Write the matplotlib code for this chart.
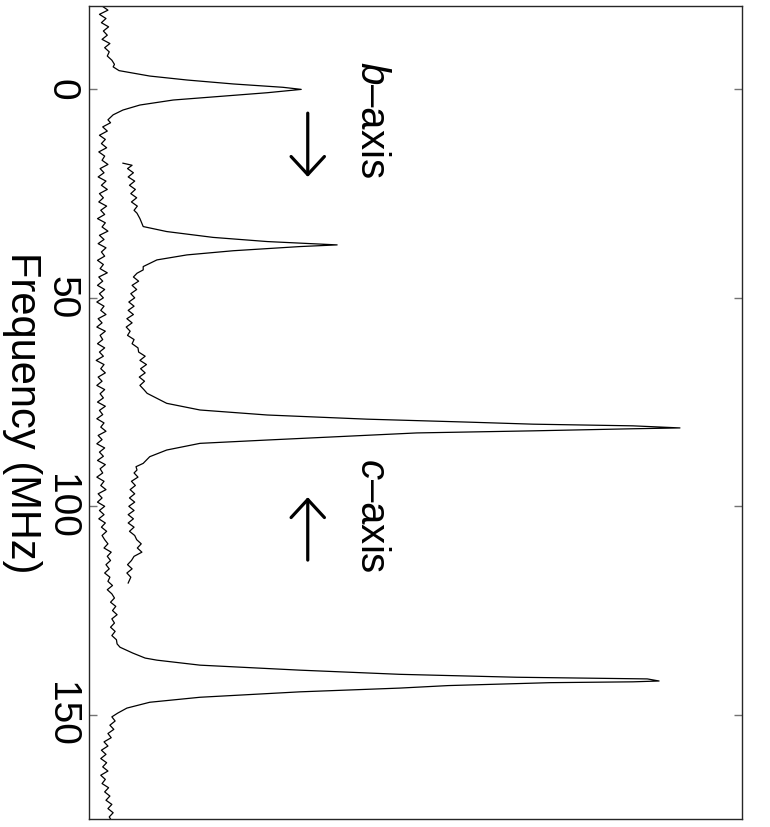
import matplotlib
matplotlib.use("Agg")
import matplotlib.pyplot as plt

plt.rcParams['font.family'] = ['Liberation Sans', 'DejaVu Sans']
plt.rcParams['mathtext.fontset'] = 'custom'
plt.rcParams['mathtext.rm'] = 'Liberation Sans'
plt.rcParams['mathtext.it'] = 'Liberation Sans:italic'

# spectrum spanning the full window (peaks near 0 and 142 MHz)
freq_full = [-20, -19, -18, -17, -16, -15, -14, -13, -12, -11, -10, -9, -8, -7, -6,
             -5.4, -4.5, -3.2, -2.25, -1.3, -0.5, 0, 0.8, 1.75, 2.55, 3.75, 4.95, 6.1, 7.3,
             8, 9, 10, 11, 12, 13, 14, 15, 16, 17, 18, 19, 20, 21, 22, 23, 24, 25, 26, 27,
             28, 29, 30, 31, 32, 33, 34, 35, 36, 37, 38, 39, 40, 41, 42, 43, 44, 45, 46, 47,
             48, 49, 50, 51, 52, 53, 54, 55, 56, 57, 58, 59, 60, 61, 62, 63, 64, 65, 66, 67,
             68, 69, 70, 71, 72, 73, 74, 75, 76, 77, 78, 79, 80, 81, 82, 83, 84, 85, 86, 87,
             88, 89, 90, 91, 92, 93, 94, 95, 96, 97, 98, 99, 100, 101, 102, 103, 104, 105,
             106, 107, 108, 109, 110, 111, 112, 113, 114, 115, 116, 117, 118, 119, 120, 121,
             122, 123, 124, 125, 126, 127, 128, 129, 130, 131, 132, 133, 133.8, 135.2, 136.4,
             136.9, 138.1, 139.3, 140.3, 141.0, 141.4, 141.9, 142.1, 142.3, 143.0, 143.6,
             144.5, 145.8, 147.0, 148.4, 149.6, 150.5, 151.5, 152.5, 153.5, 154.5, 155.5,
             156.5, 157.5, 158.5, 159.5, 160.5, 161.5, 162.5, 163.5, 164.5, 165.5, 166.5,
             167.5, 168.5, 169.5, 170.5, 171.5, 172.5, 173.5, 174.5, 175]
int_full = [2.0, 2.9, 1.6, 2.6, 1.9, 3.0, 2.2, 2.8, 2.0, 3.2, 2.4, 3.1, 2.8, 3.5, 3.9,
            3.7, 4.6, 9.3, 15.0, 22.1, 29.7, 32.5, 27.3, 19.6, 12.9, 7.8, 5.2, 3.7, 2.9,
            3.3, 2.1, 2.8, 1.6, 2.5, 1.9, 2.7, 1.5, 2.4, 2.0, 2.9, 1.7, 2.3, 1.4, 2.6, 1.9,
            2.8, 1.6, 2.2, 1.5, 2.7, 1.8, 2.4, 1.3, 2.5, 2.0, 2.9, 1.6, 2.3, 1.4, 2.6, 1.9,
            2.4, 1.3, 2.2, 1.7, 2.8, 1.5, 2.1, 1.3, 2.4, 1.6, 2.2, 1.2, 2.3, 1.8, 2.6, 1.4,
            2.0, 1.2, 2.5, 1.7, 2.1, 1.3, 2.4, 1.6, 2.2, 1.1, 2.3, 1.8, 2.5, 1.4, 2.0, 1.2,
            2.4, 1.7, 2.2, 1.3, 2.5, 1.6, 2.1, 1.2, 2.3, 1.8, 2.6, 1.4, 2.0, 1.2, 2.4, 1.6,
            2.2, 1.3, 2.5, 1.7, 2.1, 1.2, 2.3, 1.8, 2.6, 1.4, 2.0, 1.3, 2.4, 1.6, 2.3, 1.5,
            2.5, 1.9, 2.7, 2.0, 2.4, 2.9, 2.3, 3.4, 2.8, 3.3, 2.6, 3.1, 2.4, 3.2, 2.9, 3.6,
            2.8, 3.5, 3.9, 3.3, 4.1, 3.6, 4.3, 3.5, 3.9, 3.3, 4.0, 3.5, 4.2, 4.3, 4.75, 6.7,
            8.6, 10.4, 17.0, 32.3, 47.6, 65.5, 85.5, 87.3, 83.3, 70.6, 55.0, 47.6, 32.3,
            17.0, 9.3, 5.8, 4.4, 3.5, 4.0, 3.2, 3.8, 2.9, 3.4, 2.3, 2.9, 1.9, 2.6, 1.8, 2.7,
            2.1, 2.9, 1.8, 2.5, 2.0, 3.0, 2.4, 3.2, 2.6, 3.5, 2.9, 3.7, 3.1, 3.3]

# offset spectrum (peaks near 37 and 81 MHz)
freq_part = [17.7, 18.2, 19, 20, 21, 22, 23, 24, 25, 26, 27, 28, 29, 29.7, 31, 32.9,
             34.1, 35.5, 36.5, 37.3, 37.7, 38.7, 39.7, 40.9, 42.5, 43.3, 44.1, 45, 46, 47,
             48, 49, 50, 51, 52, 53, 54, 55, 56, 57, 58, 59, 60, 61, 62, 63, 64, 65, 66, 67,
             68, 69, 70, 71, 72, 72.9, 75.3, 76.9, 78.1, 79.1, 79.8, 80.3, 80.7, 81.2, 81.4,
             81.9, 82.4, 84.1, 84.9, 86.5, 88.1, 89.7, 90.5, 91.3, 92, 93, 94, 95, 96, 97,
             98, 99, 100, 101, 102, 103, 104, 105, 106, 107, 108, 109, 110, 111, 112, 113,
             114, 115, 116, 117, 118.4]
int_part = [5.2, 6.6, 5.9, 6.8, 6.0, 7.0, 6.2, 7.1, 6.4, 7.3, 6.5, 7.4, 6.9, 7.35, 7.8, 8.3,
            11.9, 19.0, 27.3, 38.0, 32.3, 22.1, 15.0, 10.4, 8.3, 8.3, 7.35, 6.8, 7.6, 6.6,
            7.3, 6.4, 7.0, 6.1, 6.9, 6.0, 6.8, 5.8, 6.6, 5.7, 6.3, 5.9, 6.9, 6.6, 7.5, 7.6,
            8.6, 7.8, 8.8, 7.9, 8.6, 7.7, 8.5, 7.8, 8.4, 8.9, 11.9, 17.0, 27.3, 42.6, 57.9,
            68.0, 83.3, 90.5, 83.3, 68.0, 50.2, 27.3, 17.0, 11.9, 9.3, 8.3, 7.2, 7.35, 6.9,
            7.5, 6.5, 7.1, 6.3, 7.0, 6.2, 7.0, 6.1, 6.9, 6.0, 6.8, 6.0, 6.9, 6.2, 7.0, 7.3,
            8.0, 7.4, 8.1, 6.9, 6.5, 5.9, 6.6, 5.8, 6.4, 6.0]

freq_ticks = [0, 50, 100, 150]

fig = plt.figure(figsize=(7.7, 8.27), dpi=100)
ax = fig.add_axes([89 / 770, 1 - 819 / 827, 653 / 770, 813 / 827])

ax.plot(int_full, freq_full, color='black', lw=0.9)
ax.plot(int_part, freq_part, color='black', lw=0.9)

ax.set_xlim(0, 100)
ax.set_ylim(175, -20)
ax.set_xticks([])
ax.set_yticks(freq_ticks)
ax.set_yticklabels([str(t) for t in freq_ticks], rotation=-90, va='center', fontsize=28)
ax.tick_params(axis='y', which='both', direction='in', left=True, right=True,
               length=6, width=1, color='0.45', pad=7)
for sp in ax.spines.values():
    sp.set_linewidth(1.0)
    sp.set_color('0.15')

ax.set_ylabel('Frequency (MHz)', rotation=-90, fontsize=30, va='center')
ax.yaxis.set_label_coords(-0.102, 0.5)

ax.text(43.3, 7.2, r'$b$–axis', rotation=-90, ha='center', va='center', fontsize=29)
ax.text(43.3, 102.2, r'$c$–axis', rotation=-90, ha='center', va='center', fontsize=29)

arrow = dict(arrowstyle='->, head_length=0.65, head_width=0.6', lw=2.3, color='black',
             shrinkA=0, shrinkB=0, mutation_scale=20)
ax.annotate('', xy=(33.5, 21.0), xytext=(33.5, 5.7), arrowprops=arrow)
ax.annotate('', xy=(33.5, 97.8), xytext=(33.5, 112.9), arrowprops=arrow)

fig.savefig('out.png', dpi=100)
